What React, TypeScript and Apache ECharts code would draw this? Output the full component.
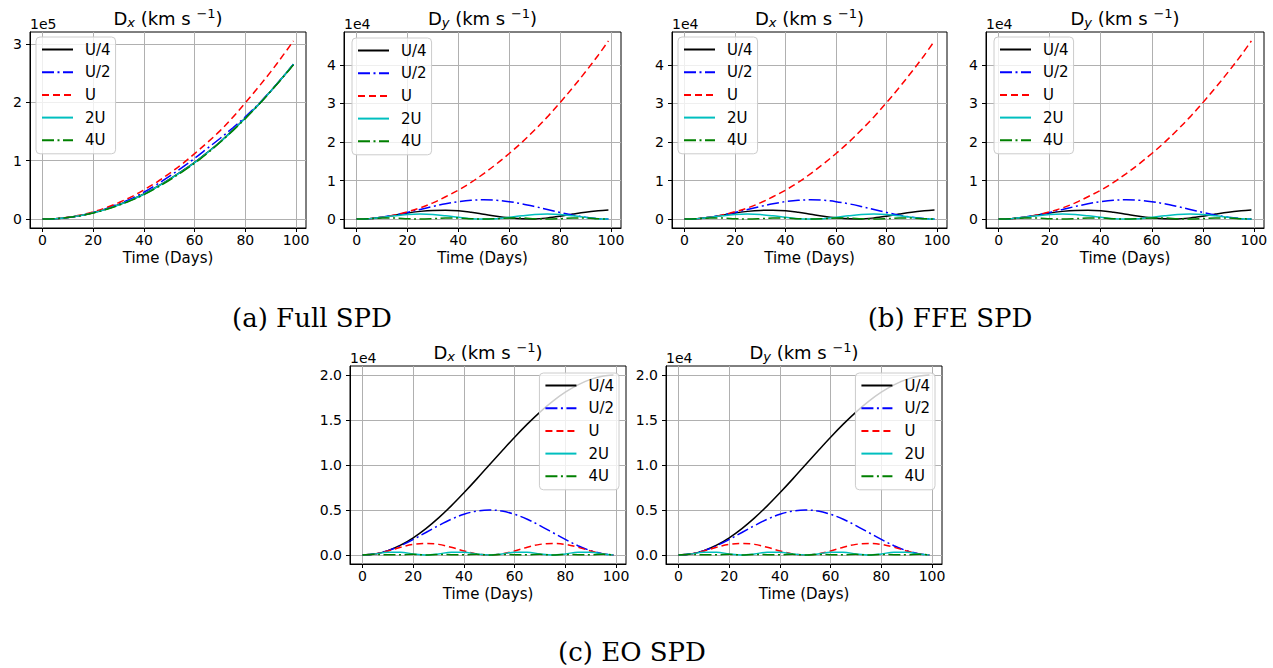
import React, { useEffect, useRef } from 'react';
import * as echarts from 'echarts';

// ---------------- data ----------------
const days = [0, 5, 10, 15, 20, 25, 30, 35, 40, 45, 50, 55, 60, 65, 70, 75, 80, 85, 90, 95, 99];
const seriesNames = ['U/4', 'U/2', 'U', '2U', '4U'];
const xTicks = [0, 20, 40, 60, 80, 100];
const yTicksFull = [0, 1, 2, 3];
const yTicksTop = [0, 1, 2, 3, 4];
const yTicksEO = [0, 0.5, 1.0, 1.5, 2.0];

// (a) Full SPD, D_x  (x 1e5)
const fullDxU4 = [0, 0.007, 0.027, 0.06, 0.108, 0.17, 0.245, 0.33, 0.43, 0.55, 0.68, 0.82, 0.97, 1.14, 1.32, 1.52, 1.73, 1.95, 2.19, 2.44, 2.65];
const fullDxU2 = [0, 0.007, 0.028, 0.062, 0.112, 0.178, 0.26, 0.35, 0.46, 0.59, 0.73, 0.88, 1.04, 1.21, 1.38, 1.56, 1.75, 1.96, 2.19, 2.44, 2.65];
const fullDxU = [0, 0.008, 0.031, 0.07, 0.124, 0.195, 0.28, 0.38, 0.5, 0.63, 0.78, 0.94, 1.12, 1.31, 1.51, 1.74, 1.99, 2.25, 2.52, 2.81, 3.05];
const fullDx2U = [0, 0.007, 0.027, 0.06, 0.107, 0.168, 0.242, 0.327, 0.425, 0.545, 0.675, 0.815, 0.965, 1.135, 1.315, 1.515, 1.725, 1.95, 2.19, 2.44, 2.65];
const fullDx4U = [0, 0.007, 0.026, 0.058, 0.104, 0.163, 0.236, 0.32, 0.418, 0.535, 0.665, 0.805, 0.955, 1.125, 1.31, 1.51, 1.72, 1.945, 2.185, 2.435, 2.64];

// (a) Full SPD D_y and (b) FFE SPD D_x, D_y  (x 1e4)
const topU4 = [0, 0.01, 0.045, 0.1, 0.16, 0.2, 0.225, 0.23, 0.215, 0.175, 0.125, 0.075, 0.035, 0.008, 0.005, 0.03, 0.075, 0.13, 0.18, 0.215, 0.235];
const topU2 = [0, 0.012, 0.048, 0.103, 0.173, 0.25, 0.327, 0.397, 0.452, 0.488, 0.5, 0.488, 0.452, 0.397, 0.327, 0.25, 0.173, 0.103, 0.048, 0.012, 0.0];
const topU = [0, 0.012, 0.047, 0.106, 0.19, 0.29, 0.42, 0.58, 0.75, 0.95, 1.18, 1.43, 1.7, 1.99, 2.31, 2.65, 3.02, 3.41, 3.82, 4.25, 4.62];
const top2U = [0, 0.012, 0.045, 0.086, 0.118, 0.13, 0.118, 0.086, 0.045, 0.012, 0, 0.012, 0.045, 0.086, 0.118, 0.13, 0.118, 0.086, 0.045, 0.012, 0.001];
const top4U = [0, 0.01, 0.027, 0.027, 0.01, 0, 0.01, 0.027, 0.027, 0.01, 0, 0.01, 0.027, 0.027, 0.01, 0, 0.01, 0.027, 0.027, 0.01, 0.001];

// (c) EO SPD D_x, D_y  (x 1e4)
const eoU4 = [0, 0.012, 0.049, 0.109, 0.191, 0.293, 0.412, 0.546, 0.691, 0.843, 1.0, 1.156, 1.309, 1.454, 1.588, 1.707, 1.809, 1.891, 1.951, 1.988, 2.0];
const eoU2 = [0, 0.012, 0.048, 0.103, 0.173, 0.25, 0.327, 0.397, 0.452, 0.488, 0.5, 0.488, 0.452, 0.397, 0.327, 0.25, 0.173, 0.103, 0.048, 0.012, 0.0];
const eoU = [0, 0.012, 0.045, 0.086, 0.118, 0.128, 0.118, 0.086, 0.045, 0.012, 0, 0.012, 0.045, 0.086, 0.118, 0.128, 0.118, 0.086, 0.045, 0.012, 0.001];
const eo2U = [0, 0.012, 0.031, 0.031, 0.012, 0, 0.012, 0.031, 0.031, 0.012, 0, 0.012, 0.031, 0.031, 0.012, 0, 0.012, 0.031, 0.031, 0.012, 0.001];
const eo4U = [0, 0.007, 0.003, 0.003, 0.007, 0, 0.007, 0.003, 0.003, 0.007, 0, 0.007, 0.003, 0.003, 0.007, 0, 0.007, 0.003, 0.003, 0.007, 0.001];

// ---------------- layout / style ----------------
const FONT = 'DejaVu Sans';
const lineStyles = [
  { color: '#000000', type: 'solid' as any },
  { color: '#0000ff', type: [12, 3.5, 2, 3.5] as any },
  { color: '#ff0000', type: [7, 4] as any },
  { color: '#00bfbf', type: 'solid' as any },
  { color: '#008000', type: [12, 3.5, 2, 3.5] as any },
];

const panels = [
  { left: 30, top: 32, width: 276, height: 196, sub: 'x', offset: '1e5', data: [fullDxU4, fullDxU2, fullDxU, fullDx2U, fullDx4U], yMin: -0.1525, yMax: 3.2025, yTicks: yTicksFull, dec: 0, legend: { left: 36, top: 37 } },
  { left: 344, top: 32, width: 277, height: 196, sub: 'y', offset: '1e4', data: [topU4, topU2, topU, top2U, top4U], yMin: -0.231, yMax: 4.851, yTicks: yTicksTop, dec: 0, legend: { left: 352, top: 38 } },
  { left: 672, top: 32, width: 275, height: 196, sub: 'x', offset: '1e4', data: [topU4, topU2, topU, top2U, top4U], yMin: -0.231, yMax: 4.851, yTicks: yTicksTop, dec: 0, legend: { left: 678, top: 37 } },
  { left: 986, top: 32, width: 278, height: 196, sub: 'y', offset: '1e4', data: [topU4, topU2, topU, top2U, top4U], yMin: -0.231, yMax: 4.851, yTicks: yTicksTop, dec: 0, legend: { left: 994, top: 37 } },
  { left: 350, top: 366, width: 276, height: 198, sub: 'x', offset: '1e4', data: [eoU4, eoU2, eoU, eo2U, eo4U], yMin: -0.1, yMax: 2.1, yTicks: yTicksEO, dec: 1, legend: { right: 654, top: 373 } },
  { left: 666, top: 366, width: 276, height: 198, sub: 'y', offset: '1e4', data: [eoU4, eoU2, eoU, eo2U, eo4U], yMin: -0.1, yMax: 2.1, yTicks: yTicksEO, dec: 1, legend: { right: 338, top: 373 } },
];

const captions = [
  { text: '(a) Full SPD', x: 312, y: 318 },
  { text: '(b) FFE SPD', x: 950, y: 318 },
  { text: '(c) EO SPD', x: 632, y: 652 },
];

function buildOption() {
  const grid: any[] = [];
  const xAxis: any[] = [];
  const yAxis: any[] = [];
  const series: any[] = [];
  const legend: any[] = [];
  const graphic: any[] = [];

  panels.forEach((p, i) => {
    grid.push({
      left: p.left, top: p.top, width: p.width, height: p.height,
      show: true, borderColor: '#000', borderWidth: 1, backgroundColor: 'transparent',
    });
    xAxis.push({
      type: 'value', gridIndex: i, min: -4.95, max: 103.95,
      axisLine: { show: true, onZero: false, lineStyle: { color: '#000', width: 1 } },
      axisTick: { show: true, length: 4, customValues: xTicks, lineStyle: { color: '#000' } },
      axisLabel: { customValues: xTicks, fontSize: 14, color: '#000', fontFamily: FONT, margin: 5 },
      splitLine: { show: true, lineStyle: { color: '#b0b0b0', width: 1 } },
      name: 'Time (Days)', nameLocation: 'middle', nameGap: 22,
      nameTextStyle: { fontSize: 15, color: '#000', fontFamily: FONT },
    });
    yAxis.push({
      type: 'value', gridIndex: i, min: p.yMin, max: p.yMax,
      axisLine: { show: true, onZero: false, lineStyle: { color: '#000', width: 1 } },
      axisTick: { show: true, length: 4, customValues: p.yTicks, lineStyle: { color: '#000' } },
      axisLabel: {
        customValues: p.yTicks, fontSize: 14, color: '#000', fontFamily: FONT, margin: 8,
        formatter: (v: number) => v.toFixed(p.dec),
      },
      splitLine: { show: true, lineStyle: { color: '#b0b0b0', width: 1 } },
    });
    p.data.forEach((vals, k) => {
      series.push({
        type: 'line', name: seriesNames[k], xAxisIndex: i, yAxisIndex: i,
        data: days.map((d, j) => [d, vals[j]]),
        showSymbol: false, symbol: 'none', smooth: 0.35,
        lineStyle: { color: lineStyles[k].color, type: lineStyles[k].type, width: 1.5 },
        itemStyle: { color: lineStyles[k].color },
        z: 3,
      });
    });
    legend.push({
      ...p.legend,
      orient: 'vertical', data: seriesNames, selectedMode: false,
      itemWidth: 31, itemHeight: 14, itemGap: 7.7,
      padding: [5, 5, 6, 5],
      backgroundColor: 'rgba(255,255,255,0.8)', borderColor: '#cccccc', borderWidth: 1, borderRadius: 4,
      itemStyle: { opacity: 0 },
      textStyle: { fontSize: 15, lineHeight: 15, color: '#000', fontFamily: FONT, padding: [0, 0, 0, 7] },
      z: 10,
    });
    // title
    graphic.push({
      type: 'text', x: p.left + p.width / 2, y: p.top - 14,
      style: {
        text: `{m|D}{s|${p.sub}}{m| (km s }{p|−1}{m|)}`,
        align: 'center', verticalAlign: 'middle',
        rich: {
          m: { fontSize: 18, fontFamily: FONT, fill: '#000', lineHeight: 22 },
          s: { fontSize: 13, fontFamily: FONT, fontStyle: 'italic', fill: '#000', verticalAlign: 'bottom', lineHeight: 13 },
          p: { fontSize: 13, fontFamily: FONT, fill: '#000', verticalAlign: 'top', lineHeight: 13 },
        },
      },
    });
    // offset text
    graphic.push({
      type: 'text', x: p.left, y: p.top - 1,
      style: { text: p.offset, fontSize: 14, fontFamily: FONT, fill: '#000', align: 'left', verticalAlign: 'bottom' },
    });
  });

  captions.forEach((c) => {
    graphic.push({
      type: 'text', x: c.x, y: c.y,
      style: { text: c.text, fontSize: 26, fontFamily: 'DejaVu Serif', fill: '#000', align: 'center', verticalAlign: 'middle' },
    });
  });

  return {
    animation: false,
    backgroundColor: '#ffffff',
    textStyle: { fontFamily: FONT },
    grid, xAxis, yAxis, series, legend, graphic,
  };
}

export default function App() {
  const ref = useRef<HTMLDivElement>(null);
  useEffect(() => {
    if (!ref.current) return;
    const chart = echarts.init(ref.current, undefined, { renderer: 'svg' });
    chart.setOption(buildOption() as any);
    return () => chart.dispose();
  }, []);
  return <div ref={ref} style={{ position: 'absolute', left: 0, top: 0, width: 1273, height: 668 }} />;
}
